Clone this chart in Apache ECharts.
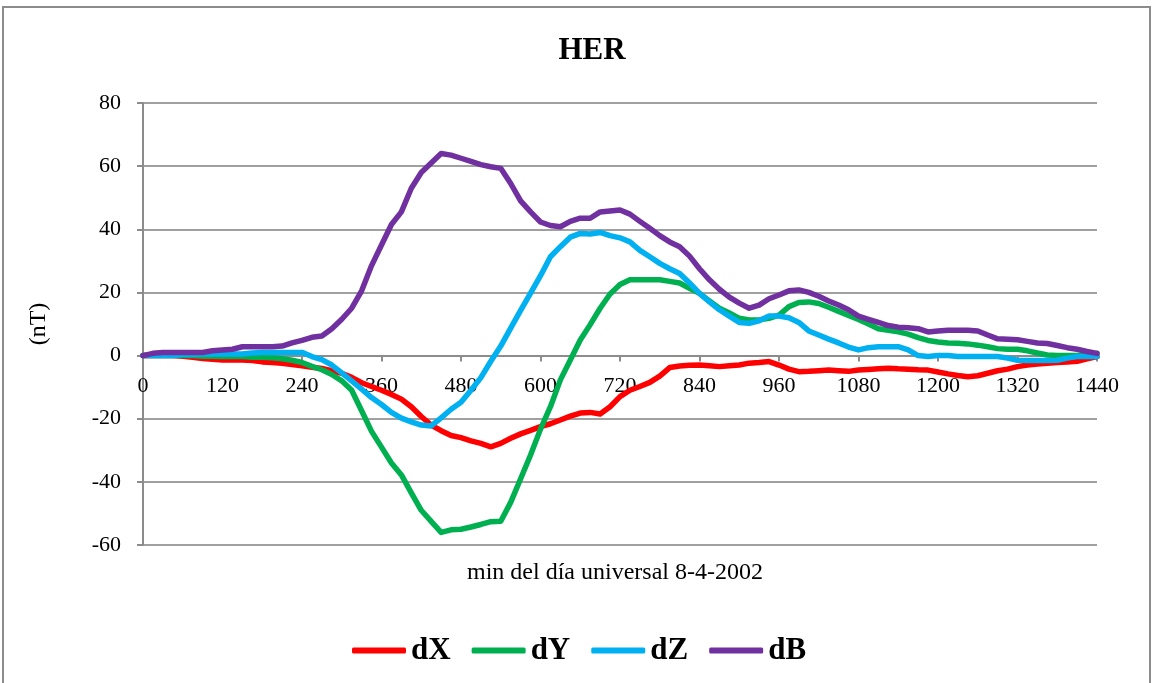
<!DOCTYPE html>
<html>
<head>
<meta charset="utf-8">
<script src="https://cdn.jsdelivr.net/npm/echarts@6/dist/echarts.min.js"></script>
<style>html,body{margin:0;padding:0;background:#fff}#c{width:1154px;height:683px}</style>
</head>
<body>
<div id="c"></div>
<script>
var minutes = [];
for (var m = 0; m <= 1440; m += 15) minutes.push(m);
var xTicks = [0,120,240,360,480,600,720,840,960,1080,1200,1320,1440];
var yTicks = [-60,-40,-20,0,20,40,60,80];

var dX = [0,0,0,0,-0.2,-0.5,-0.9,-1.2,-1.4,-1.4,-1.4,-1.6,-2,-2.2,-2.4,-2.8,-3.2,-3.7,-4.1,-4.8,
  -5.6,-6.9,-8.6,-9.8,-11,-12.3,-13.8,-16.2,-19.3,-22,-23.8,-25.3,-26,-27,-27.8,-28.9,-27.8,-26.2,-24.8,-23.7,
  -22.5,-21.6,-20.4,-19.2,-18.2,-18,-18.5,-16.2,-13,-11,-9.8,-8.5,-6.5,-3.8,-3.3,-3.1,-3,-3.2,-3.5,-3.2,
  -3,-2.4,-2.2,-1.9,-3,-4.3,-5.1,-5,-4.8,-4.6,-4.8,-5,-4.6,-4.4,-4.2,-4,-4.2,-4.3,-4.5,-4.6,
  -5.2,-5.8,-6.3,-6.7,-6.4,-5.6,-4.8,-4.3,-3.5,-3,-2.7,-2.4,-2.2,-2,-1.8,-1,-0.3];
var dY = [0,0,0,0,0,0,-0.2,-0.2,-0.3,-0.3,-0.3,-0.5,-0.5,-0.7,-1,-1.5,-2.2,-3.4,-4.5,-6,
  -8,-11,-17.5,-24,-29,-34,-37.8,-43.5,-49,-52.5,-56,-55.2,-55,-54.3,-53.5,-52.6,-52.5,-46.5,-39,-31.5,
  -23.3,-16.2,-7.7,-1.4,4.9,9.8,15,19.5,22.5,24,24,24,24,23.5,23,21.3,19.7,17.3,15,13.5,
  11.8,11.3,11.3,11.8,12.8,15.5,16.8,17,16.5,15.3,14,12.7,11.4,10,8.5,8,7.5,6.8,5.7,4.8,
  4.3,4,3.9,3.7,3.3,2.8,2.2,2,2,1.5,0.8,0.2,0,0,0,0.3,0.7];
var dZ = [0,0,0,0,0.3,0.3,0.5,0.5,0.5,0.5,0.5,0.8,1,1,1,1,1,-0.3,-1.3,-3,
  -5.5,-8,-10.6,-13.3,-15.5,-18,-19.8,-21,-22,-22.3,-19.7,-17,-14.8,-11,-7,-1.8,3,8.7,14.3,19.8,
  25.3,31.3,34.5,37.5,38.7,38.5,39,38,37.3,36,33.3,31.3,29.2,27.5,26,23,19.7,17,14.5,12.5,
  10.5,10.2,11,12.5,12.5,12,10.5,7.8,6.5,5.2,4,2.7,1.8,2.5,2.8,2.8,2.8,1.8,0,-0.3,
  0,0,-0.3,-0.3,-0.3,-0.3,-0.3,-0.8,-1.5,-1.6,-1.6,-1.6,-1.5,-0.8,-0.3,-0.3,-0.3];
var dB = [0,0.7,1,1,1,1,1,1.5,1.8,2,2.8,2.8,2.8,2.8,3,4,4.8,5.8,6.2,8.5,
  11.5,15,20.5,28.5,35,41.5,45.5,53,58,61,64,63.5,62.5,61.5,60.5,59.8,59.3,54.5,49,45.5,
  42.3,41.2,40.8,42.5,43.5,43.5,45.5,45.8,46.1,44.8,42.5,40.3,38,36,34.5,31.5,27.5,24,21,18.5,
  16.6,15,16,18,19.2,20.5,20.8,20,18.8,17.3,16,14.5,12.5,11.5,10.5,9.5,9,8.8,8.5,7.5,
  7.8,8,8,8,7.8,6.5,5.3,5.2,5,4.5,4,3.8,3.2,2.5,2,1.3,0.7];

var seriesNames = ['dX','dY','dZ','dB'];
var seriesData = [dX, dY, dZ, dB];
var colors = ['#FF0000','#00B050','#00B0F0','#7030A0'];

function pairs(arr){ return minutes.map(function(t,i){ return [t, arr[i]]; }); }

var FONT = '"Liberation Serif","Times New Roman",serif';
var yMin = -60, yMax = 80;
var plotTop = 103, plotBottom = 545;
var zeroPx = plotTop + (plotBottom - plotTop) * yMax / (yMax - yMin);

var chart = echarts.init(document.getElementById('c'));
chart.setOption({
  animation: false,
  backgroundColor: '#fff',
  title: {
    text: 'HER', left: 587, top: 30, textAlign: 'center',
    textStyle: { fontFamily: FONT, fontSize: 31, fontWeight: 'bold', color: '#000' }
  },
  graphic: [
    { type: 'rect', shape: { x: 3, y: 7, width: 1147, height: 700 },
      style: { fill: 'none', stroke: '#8c8c8c', lineWidth: 2 }, silent: true },
    { type: 'text', x: 615, y: 573,
      style: { text: 'min del día universal 8-4-2002', fontFamily: FONT, fontSize: 24,
        fill: '#000', textAlign: 'center', textVerticalAlign: 'middle' } }
  ],
  legend: {
    left: 347, top: 630, itemWidth: 54, itemHeight: 6, itemGap: 21,
    icon: 'roundRect',
    textStyle: { fontFamily: FONT, fontSize: 31, fontWeight: 'bold', color: '#000' },
    data: seriesNames
  },
  grid: [
    { left: 143, right: 57, top: plotTop, bottom: 683 - plotBottom, containLabel: false },
    { left: 143, right: 57, top: plotTop, bottom: 683 - zeroPx, containLabel: false }
  ],
  xAxis: [
    { type: 'value', gridIndex: 0, min: 0, max: 1440, interval: 120, show: false,
      splitLine: { show: false } },
    { type: 'value', gridIndex: 1, min: 0, max: 1440, interval: 120,
      axisLine: { show: true, lineStyle: { color: '#8c8c8c', width: 2 } },
      axisTick: { show: true, length: 6, inside: false, lineStyle: { color: '#8c8c8c', width: 2 } },
      axisLabel: { fontFamily: FONT, fontSize: 22, color: '#000', margin: 20,
        formatter: function(v){ return xTicks.indexOf(v) >= 0 ? String(v) : ''; } },
      splitLine: { show: false } }
  ],
  yAxis: [
    { type: 'value', gridIndex: 0, min: yMin, max: yMax, interval: 20,
      name: '(nT)', nameLocation: 'middle', nameRotate: 90, nameGap: 92,
      nameTextStyle: { fontFamily: FONT, fontSize: 24, color: '#000' },
      axisLine: { show: true, onZero: false, lineStyle: { color: '#8c8c8c', width: 2 } },
      axisTick: { show: true, length: 6, lineStyle: { color: '#8c8c8c', width: 2 } },
      axisLabel: { fontFamily: FONT, fontSize: 22, color: '#000', margin: 22,
        formatter: function(v){ return yTicks.indexOf(v) >= 0 ? String(v) : ''; } },
      splitLine: { show: true, lineStyle: { color: '#a0a0a0', width: 2 } } },
    { type: 'value', gridIndex: 1, min: 0, max: 1, show: false, splitLine: { show: false } }
  ],
  series: seriesNames.map(function(n, i){
    return {
      name: n, type: 'line', xAxisIndex: 0, yAxisIndex: 0, data: pairs(seriesData[i]),
      symbol: 'none', smooth: false,
      lineStyle: { color: colors[i], width: 5.5, cap: 'round', join: 'round' },
      itemStyle: { color: colors[i] },
      z: 3 + i
    };
  })
});
</script>
</body>
</html>
